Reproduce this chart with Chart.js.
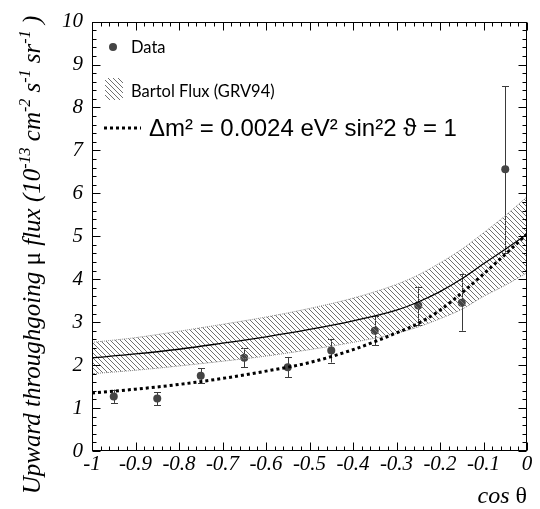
<!DOCTYPE html>
<html>
<head>
<meta charset="utf-8">
<script src="https://cdn.jsdelivr.net/npm/chart.js@4.4.0/dist/chart.umd.min.js"></script>
<style>
html,body{margin:0;padding:0;background:#fff;}
#wrap{width:540px;height:509px;position:relative;}
</style>
</head>
<body>
<div id="wrap"><canvas id="myChart"></canvas></div>
<script>
// measured points (cos theta bin centres) with error bar ends
var cosBins=[-0.95,-0.85,-0.75,-0.65,-0.55,-0.45,-0.35,-0.25,-0.15,-0.05];
var fluxData=[1.27,1.22,1.75,2.17,1.95,2.34,2.80,3.39,3.45,6.56];
var errLow=[1.12,1.06,1.58,1.95,1.72,2.06,2.46,2.93,2.80,4.62];
var errHigh=[1.43,1.37,1.93,2.39,2.19,2.61,3.14,3.83,4.13,8.49];

// expectation curves
var curveX=[-1,-0.9,-0.8,-0.7,-0.6,-0.5,-0.4,-0.3,-0.25,-0.2,-0.15,-0.1,-0.05,0];
var bartolCentral=[2.17,2.26,2.37,2.51,2.66,2.83,3.03,3.28,3.47,3.71,4.01,4.36,4.70,5.05];
var bartolUpper=[2.53,2.64,2.79,2.95,3.12,3.32,3.56,3.88,4.10,4.38,4.70,5.08,5.48,5.92];
var bartolLower=[1.80,1.88,1.98,2.09,2.21,2.36,2.53,2.74,2.89,3.08,3.30,3.60,3.86,4.15];
var oscillated=[1.35,1.44,1.55,1.69,1.86,2.06,2.36,2.75,2.97,3.28,3.68,4.12,4.58,5.05];

var xTicks=[-1,-0.9,-0.8,-0.7,-0.6,-0.5,-0.4,-0.3,-0.2,-0.1,0];
var xTickLabels=['-1','-0.9','-0.8','-0.7','-0.6','-0.5','-0.4','-0.3','-0.2','-0.1','0'];
var yTicks=[0,1,2,3,4,5,6,7,8,9,10];
var yTickLabels=['0','1','2','3','4','5','6','7','8','9','10'];

function pts(xs,ys){
	var out=[];
	for(var i=0;i<xs.length;i++) out.push({x:xs[i],y:ys[i]});
	return out;
}

var ctx=document.getElementById('myChart').getContext('2d');

function makeHatch(){
	var p=document.createElement('canvas'); p.width=5; p.height=5;
	var g=p.getContext('2d');
	g.strokeStyle='#707070'; g.lineWidth=1;
	g.beginPath();
	g.moveTo(-1,-1); g.lineTo(6,6);
	g.moveTo(-1,4); g.lineTo(1,6);
	g.moveTo(4,-1); g.lineTo(6,1);
	g.stroke();
	return ctx.createPattern(p,'repeat');
}
var hatch=makeHatch();

// frame with inward major/minor ticks on all four sides
var frameTicks={
	id:'frameTicks',
	afterDraw:function(chart){
		var c=chart.ctx, a=chart.chartArea, xs=chart.scales.x, ys=chart.scales.y;
		c.save();
		c.strokeStyle='#000'; c.lineWidth=1;
		var L=Math.round(a.left)+0.5, R=Math.round(a.right)-0.5, T=Math.round(a.top)+0.5, B=Math.round(a.bottom)-0.5;
		c.strokeRect(L,T,R-L,B-T);
		c.beginPath();
		for(var i=0;i<=50;i++){
			var len=(i%5==0)?8:4;
			var px=Math.round(xs.getPixelForValue(-1+i*0.02))+0.5;
			c.moveTo(px,B); c.lineTo(px,B-len);
			c.moveTo(px,T); c.lineTo(px,T+len);
			var py=Math.round(ys.getPixelForValue(i*0.2))+0.5;
			c.moveTo(L,py); c.lineTo(L+len,py);
			c.moveTo(R,py); c.lineTo(R-len,py);
		}
		c.stroke();
		c.restore();
	}
};

// vertical error bars with small caps
var errorBars={
	id:'errorBars',
	beforeDatasetsDraw:function(chart){
		var c=chart.ctx, xs=chart.scales.x, ys=chart.scales.y;
		c.save();
		c.strokeStyle='#3a3a3a'; c.lineWidth=1;
		c.beginPath();
		for(var i=0;i<cosBins.length;i++){
			var px=Math.round(xs.getPixelForValue(cosBins[i]))+0.5;
			var y1=ys.getPixelForValue(errLow[i]), y2=ys.getPixelForValue(errHigh[i]);
			c.moveTo(px,y1); c.lineTo(px,y2);
			c.moveTo(px-3.5,Math.round(y1)+0.5); c.lineTo(px+3.5,Math.round(y1)+0.5);
			c.moveTo(px-3.5,Math.round(y2)+0.5); c.lineTo(px+3.5,Math.round(y2)+0.5);
		}
		c.stroke();
		c.restore();
	}
};

// legend box and axis titles
var legendTitles={
	id:'legendTitles',
	afterDraw:function(chart){
		var c=chart.ctx;
		c.save();
		c.fillStyle='#444';
		c.beginPath(); c.arc(113,47,4,0,Math.PI*2); c.fill();
		c.fillStyle='#000';
		c.font='16.5px Lato, "DejaVu Sans", sans-serif';
		c.textBaseline='alphabetic';
		c.fillText('Data',131,53);
		c.fillStyle=hatch;
		c.fillRect(105,78,18,22);
		c.fillStyle='#000';
		c.fillText('Bartol Flux (GRV94)',131,97);

		c.strokeStyle='#000'; c.lineWidth=3; c.setLineDash([3,3]);
		c.beginPath(); c.moveTo(104,128); c.lineTo(141,128); c.stroke();
		c.setLineDash([]);
		c.font='24px "Liberation Sans", Arial, sans-serif';
		c.fillText('\u0394m\u00b2 = 0.0024 eV\u00b2 sin\u00b22 \u03d1 = 1',149,136);

		// x title
		c.textAlign='right';
		c.font='24px "Liberation Serif", serif';
		c.fillText('\u03b8',527,503);
		var wt=c.measureText('\u03b8').width;
		c.font='italic 24px "Liberation Serif", serif';
		c.fillText('cos ',527-wt,503);

		// y title, rotated, with superscripts
		var big='italic 25px "Liberation Serif", serif', sup='italic 16px "Liberation Serif", serif';
		var parts=[
			['Upward throughgoing ',big,0],
			['\u03bc','25px "Liberation Serif", serif',0],
			[' flux (10',big,0],
			['-13',sup,-10],
			[' cm',big,0],
			['-2',sup,-10],
			[' s',big,0],
			['-1',sup,-10],
			[' sr',big,0],
			['-1',sup,-10],
			[' )',big,0]
		];
		var total=0,i;
		for(i=0;i<parts.length;i++){ c.font=parts[i][1]; total+=c.measureText(parts[i][0]).width; }
		c.translate(40,255);
		c.rotate(-Math.PI/2);
		c.textAlign='left';
		var x=-total/2;
		for(i=0;i<parts.length;i++){
			c.font=parts[i][1];
			c.fillText(parts[i][0],x,parts[i][2]);
			x+=c.measureText(parts[i][0]).width;
		}
		c.restore();
	}
};

var chart=new Chart(ctx,{
	type:'scatter',
	data:{datasets:[
		{label:'upper',data:pts(curveX,bartolUpper),showLine:true,pointRadius:0,borderColor:'#8a8a8a',borderWidth:1,borderDash:[1,1],cubicInterpolationMode:'monotone',fill:'+1',backgroundColor:hatch,order:2},
		{label:'lower',data:pts(curveX,bartolLower),showLine:true,pointRadius:0,borderColor:'#8a8a8a',borderWidth:1,borderDash:[1,1],cubicInterpolationMode:'monotone',fill:false,order:2},
		{label:'central',data:pts(curveX,bartolCentral),showLine:true,pointRadius:0,borderColor:'#000',borderWidth:1.3,cubicInterpolationMode:'monotone',fill:false,order:1},
		{label:'osc',data:pts(curveX,oscillated),showLine:true,pointRadius:0,borderColor:'#000',borderWidth:3,borderDash:[3,3],borderCapStyle:'butt',cubicInterpolationMode:'monotone',fill:false,order:0},
		{label:'Data',data:pts(cosBins,fluxData),showLine:false,pointRadius:4,pointBackgroundColor:'#444',pointBorderWidth:0,order:5}
	]},
	options:{
		responsive:true,
		maintainAspectRatio:false,
		animation:false,
		layout:{padding:{top:13,right:13,left:0,bottom:0}},
		plugins:{legend:{display:false},tooltip:{enabled:false}},
		scales:{
			x:{
				type:'linear',min:-1,max:0,
				afterFit:function(s){ s.height=58; },
				afterBuildTicks:function(s){ s.ticks=xTicks.map(function(v){return {value:v};}); },
				ticks:{autoSkip:false,maxRotation:0,padding:1,color:'#000',font:{family:'"Liberation Serif", serif',size:21,style:'italic'},
					callback:function(v,i){ return xTickLabels[i]; }},
				grid:{display:false,drawTicks:false},
				border:{display:false}
			},
			y:{
				type:'linear',min:0,max:10,
				afterFit:function(s){ s.width=92; },
				afterBuildTicks:function(s){ s.ticks=yTicks.map(function(v){return {value:v};}); },
				ticks:{autoSkip:false,padding:9,color:'#000',font:{family:'"Liberation Serif", serif',size:21,style:'italic'},
					callback:function(v,i){ return yTickLabels[i]; }},
				grid:{display:false,drawTicks:false},
				border:{display:false}
			}
		}
	},
	plugins:[errorBars,frameTicks,legendTitles]
});
</script>
</body>
</html>
